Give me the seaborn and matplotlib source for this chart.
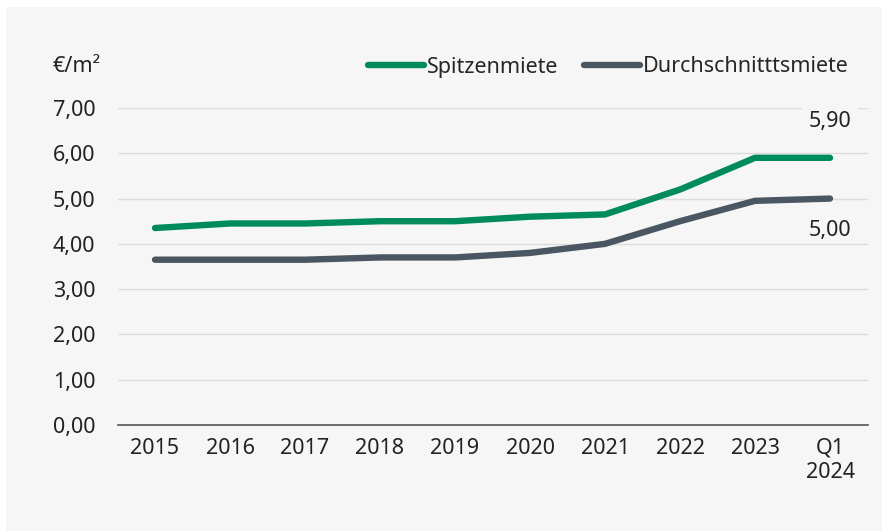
import pandas as pd
import matplotlib.pyplot as plt
import matplotlib.patches as mpatches
import seaborn as sns

# Data
years = ['2015', '2016', '2017', '2018', '2019', '2020', '2021', '2022', '2023', 'Q1\n2024']
spitzenmiete = [4.35, 4.45, 4.45, 4.50, 4.50, 4.60, 4.65, 5.20, 5.90, 5.90]
durchschnittsmiete = [3.65, 3.65, 3.65, 3.70, 3.70, 3.80, 4.00, 4.50, 4.95, 5.00]
series_names = ['Spitzenmiete', 'Durchschnitttsmiete']
y_ticks = [0, 1, 2, 3, 4, 5, 6, 7]

df = pd.DataFrame({
    'Jahr': years * 2,
    'Miete': spitzenmiete + durchschnittsmiete,
    'Serie': [series_names[0]] * len(years) + [series_names[1]] * len(years),
})

sns.set_style('white')
plt.rcParams['font.family'] = ['Noto Sans', 'DejaVu Sans']
bg = '#f6f6f6'
palette = {series_names[0]: '#008c5a', series_names[1]: '#4a5661'}

fig = plt.figure(figsize=(8.88, 5.31), dpi=100, facecolor='white')
fig.patches.append(mpatches.Rectangle((6 / 888, 0), 876 / 888, 1 - 7 / 531,
                                      transform=fig.transFigure, facecolor=bg,
                                      edgecolor='none', zorder=-10))
ax = fig.add_axes([117.5 / 888, 1 - 425 / 531, 750 / 888, 317 / 531])
ax.set_facecolor(bg)

sns.lineplot(data=df, x='Jahr', y='Miete', hue='Serie', palette=palette,
             linewidth=4.6, solid_capstyle='round', sort=False, ax=ax)

ax.set_xlim(-0.5, len(years) - 0.5)
ax.set_ylim(0, 7)
ax.set_yticks(y_ticks)
ax.set_yticklabels([f'{v:.2f}'.replace('.', ',') for v in y_ticks])
ax.set_xticks(range(len(years)))
ax.set_xticklabels(years)
ax.grid(axis='y', color='#dcdcdc', linewidth=1)
ax.set_axisbelow(True)
for s in ['top', 'right', 'left']:
    ax.spines[s].set_visible(False)
ax.spines['bottom'].set_color('#555555')
ax.spines['bottom'].set_linewidth(1.2)
ax.tick_params(axis='both', length=0, labelsize=15.5, colors='#222222')
ax.tick_params(axis='y', pad=16)
ax.tick_params(axis='x', pad=9)
ax.set_xlabel('')
ax.set_ylabel('')

# end value labels
ax.annotate('5,90', xy=(len(years) - 1, spitzenmiete[-1]), xytext=(0, 26),
            textcoords='offset points', ha='center', va='center', fontsize=15.5,
            color='#222222', bbox=dict(facecolor=bg, edgecolor='none', pad=5))
ax.annotate('5,00', xy=(len(years) - 1, durchschnittsmiete[-1]), xytext=(0, -23),
            textcoords='offset points', ha='center', va='center', fontsize=15.5,
            color='#222222')

# legend
old = ax.get_legend()
handles = old.legend_handles
labels = [t.get_text() for t in old.get_texts()]
old.remove()
for h in handles:
    h.set_linewidth(4.6)
    h.set_solid_capstyle('round')
ax.legend(handles, labels, ncol=2, frameon=False, fontsize=15.5,
          loc='center right', bbox_to_anchor=(849 / 888, 1 - 67 / 531),
          bbox_transform=fig.transFigure, borderaxespad=0, borderpad=0,
          handlelength=2.6, handletextpad=0.15, columnspacing=1.2)

fig.text(52 / 888, 1 - 67 / 531, '€/m²', fontsize=15.5, color='#222222',
         ha='left', va='center')

plt.savefig('out.png', dpi=100, facecolor=fig.get_facecolor())
plt.close()
